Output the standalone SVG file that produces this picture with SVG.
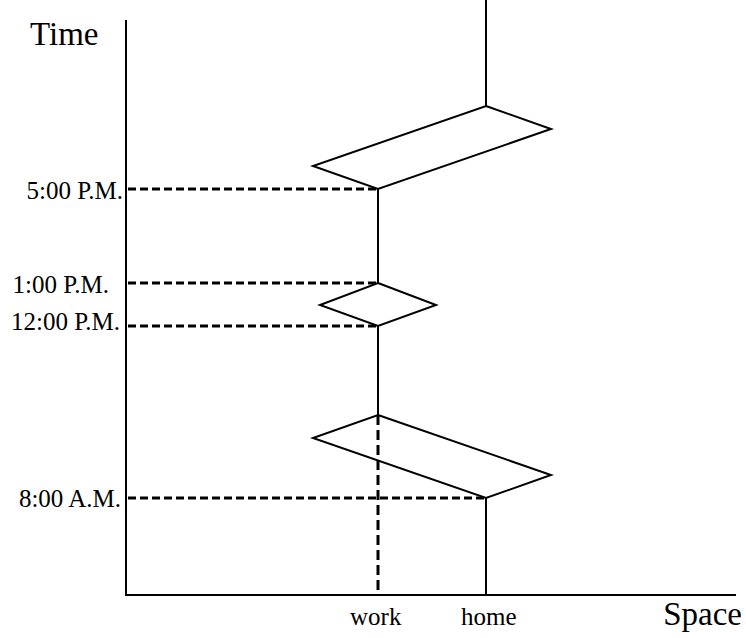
<svg xmlns="http://www.w3.org/2000/svg" width="746" height="638" viewBox="0 0 746 638">
<style>
.ln{fill:none;stroke:#000;stroke-width:2;stroke-linejoin:miter}
.dh{fill:none;stroke:#000;stroke-width:3;stroke-dasharray:8 4}
.dv{fill:none;stroke:#000;stroke-width:3;stroke-dasharray:10 5}
.lb{font-family:"Liberation Serif","Times New Roman",serif;font-size:25px;fill:#000}
.tl{font-family:"Liberation Serif","Times New Roman",serif;font-size:25px;fill:#000;text-anchor:end}
.ax{font-family:"Liberation Serif","Times New Roman",serif;font-size:33px;fill:#000}
</style>
<rect width="746" height="638" fill="#fff"/>
<g id="axes">
<line class="ln" x1="126" y1="20" x2="126" y2="596"/>
<line class="ln" x1="125" y1="595" x2="736" y2="595"/>
<text class="ax" x="30" y="45">Time</text>
<text class="ax" x="742" y="625" text-anchor="end">Space</text>
<text class="lb" x="350" y="625">work</text>
<text class="lb" x="461" y="625">home</text>
</g>
<g id="time-labels">
<text class="tl" x="123" y="199">5:00 P.M.</text>
<text class="tl" x="109" y="293">1:00 P.M.</text>
<text class="tl" x="120" y="330">12:00 P.M.</text>
<text class="tl" x="121" y="507">8:00 A.M.</text>
</g>
<g id="connectors">
<line class="dh" x1="128" y1="189" x2="378" y2="189"/>
<line class="dh" x1="128" y1="283" x2="378" y2="283"/>
<line class="dh" x1="128" y1="326" x2="378" y2="326"/>
<line class="dh" x1="128" y1="498" x2="486" y2="498"/>
<line class="dv" x1="378" y1="415" x2="378" y2="595"/>
</g>
<g id="path-home-top">
<line class="ln" x1="486" y1="0" x2="486" y2="106"/>
</g>
<g id="prism-evening">
<polygon class="ln" points="486,106 551,129 378,189 313,166"/>
</g>
<g id="path-work-afternoon">
<line class="ln" x1="378" y1="189" x2="378" y2="283"/>
</g>
<g id="prism-lunch">
<polygon class="ln" points="378,283 436,305 378,326 320,305"/>
</g>
<g id="path-work-morning">
<line class="ln" x1="378" y1="326" x2="378" y2="415"/>
</g>
<g id="prism-morning">
<polygon class="ln" points="378,415 551,475 486,498 313,438"/>
</g>
<g id="path-home-bottom">
<line class="ln" x1="486" y1="498" x2="486" y2="595"/>
</g>
</svg>
